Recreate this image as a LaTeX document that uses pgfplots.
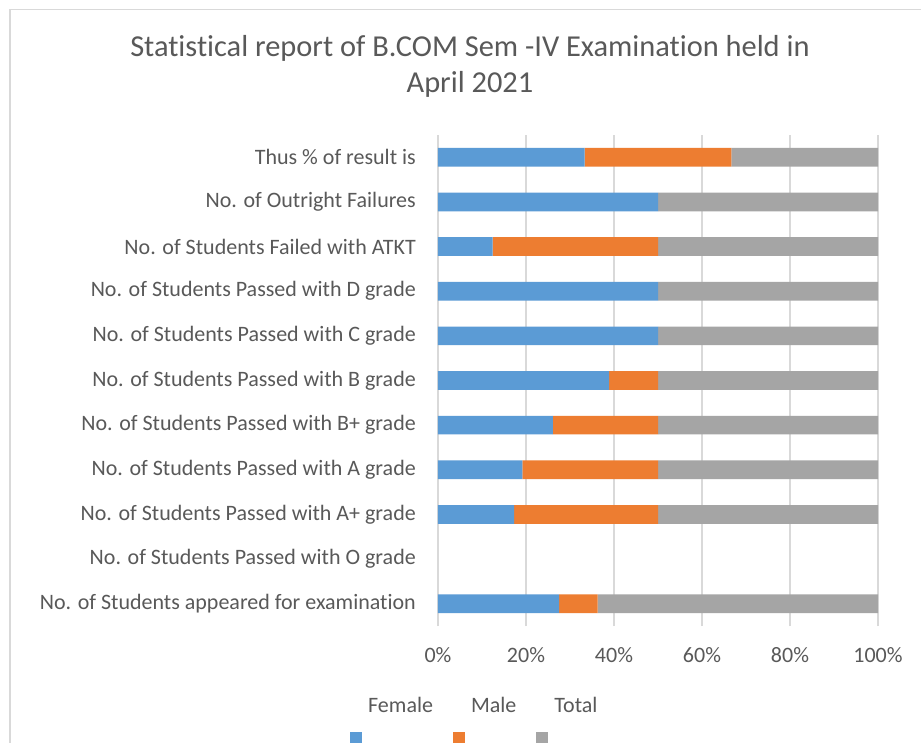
\documentclass[border=0pt]{standalone}
\usepackage{pgfplots}
\usepackage{pgfplotstable}
\pgfplotsset{compat=1.18}
\usepackage{fontspec}
\setmainfont{Carlito}[Ligatures=CommonOff]
\definecolor{cblue}{RGB}{91,155,213}
\definecolor{corange}{RGB}{237,125,49}
\definecolor{cgray}{RGB}{165,165,165}
\definecolor{ctext}{RGB}{89,89,89}
\definecolor{cgrid}{RGB}{217,217,217}
\pgfplotstableread{
y F M T
0 27.5 8.8 63.7
1 0 0 0
2 17.3 32.7 50
3 19.2 30.8 50
4 26.1 23.9 50
5 38.9 11.1 50
6 50 0 50
7 50 0 50
8 12.4 37.6 50
9 50 0 50
10 33.3 33.4 33.3
}\datatable
\begin{document}
\begin{tikzpicture}
\path[use as bounding box] (0pt,0pt) rectangle (921pt,742pt);
\fill[white] (0pt,0pt) rectangle (921pt,742pt);
\draw[cgrid, line width=1.5pt] (10pt,-5pt) -- (10pt,732.5pt) -- (930pt,732.5pt);
\begin{axis}[
  at={(438pt,116pt)}, anchor=south west,
  scale only axis, width=440pt, height=491pt,
  xbar stacked, bar width=18.7pt,
  xmin=0, xmax=100, ymin=-0.5, ymax=10.5,
  xtick={0,20,40,60,80,100},
  xticklabels={0\%,20\%,40\%,60\%,80\%,100\%},
  ytick={0,...,10},
  yticklabels={No. of Students appeared for examination,
    No. of Students Passed with O grade,
    No. of Students Passed with A+ grade,
    No. of Students Passed with A grade,
    No. of Students Passed with B+ grade,
    No. of Students Passed with B grade,
    No. of Students Passed with C grade,
    No. of Students Passed with D grade,
    No. of Students Failed with ATKT,
    No. of Outright Failures,
    Thus \% of result is},
  major tick length=0pt,
  axis line style={draw=none},
  xmajorgrids, grid style={cgrid, line width=1.5pt},
  /pgf/number format/assume math mode=true,
  yticklabel style={font=\fontsize{22}{26}\selectfont, text=ctext, inner sep=0pt, xshift=-22pt},
  xticklabel style={font=\fontsize{22}{26}\selectfont, text=ctext, inner sep=0pt, yshift=-21pt},
  title={Statistical report of B.COM Sem -IV Examination held in\\April 2021},
  title style={at={(axis description cs:0.0727,1.128)}, anchor=center, align=center,
    font=\fontsize{30.4}{35.5}\selectfont, text=ctext},
  legend columns=3,
  legend style={draw=none, fill=none, at={(axis description cs:-0.2,-0.145)}, anchor=north west,
    inner sep=0pt, column sep=6pt,
    font=\fontsize{22}{26}\selectfont, text=ctext,
    nodes={inner sep=0pt},
    /tikz/every even column/.append style={column sep=20pt}},
  legend image code/.code={\fill[#1] (0pt,-38pt) rectangle (12pt,-26pt);},
]
\addplot[fill=cblue, draw=none] table[x=F, y=y] {\datatable};
\addplot[fill=corange, draw=none] table[x=M, y=y] {\datatable};
\addplot[fill=cgray, draw=none] table[x=T, y=y] {\datatable};
\legend{Female, Male, Total}
\end{axis}
\end{tikzpicture}
\end{document}
